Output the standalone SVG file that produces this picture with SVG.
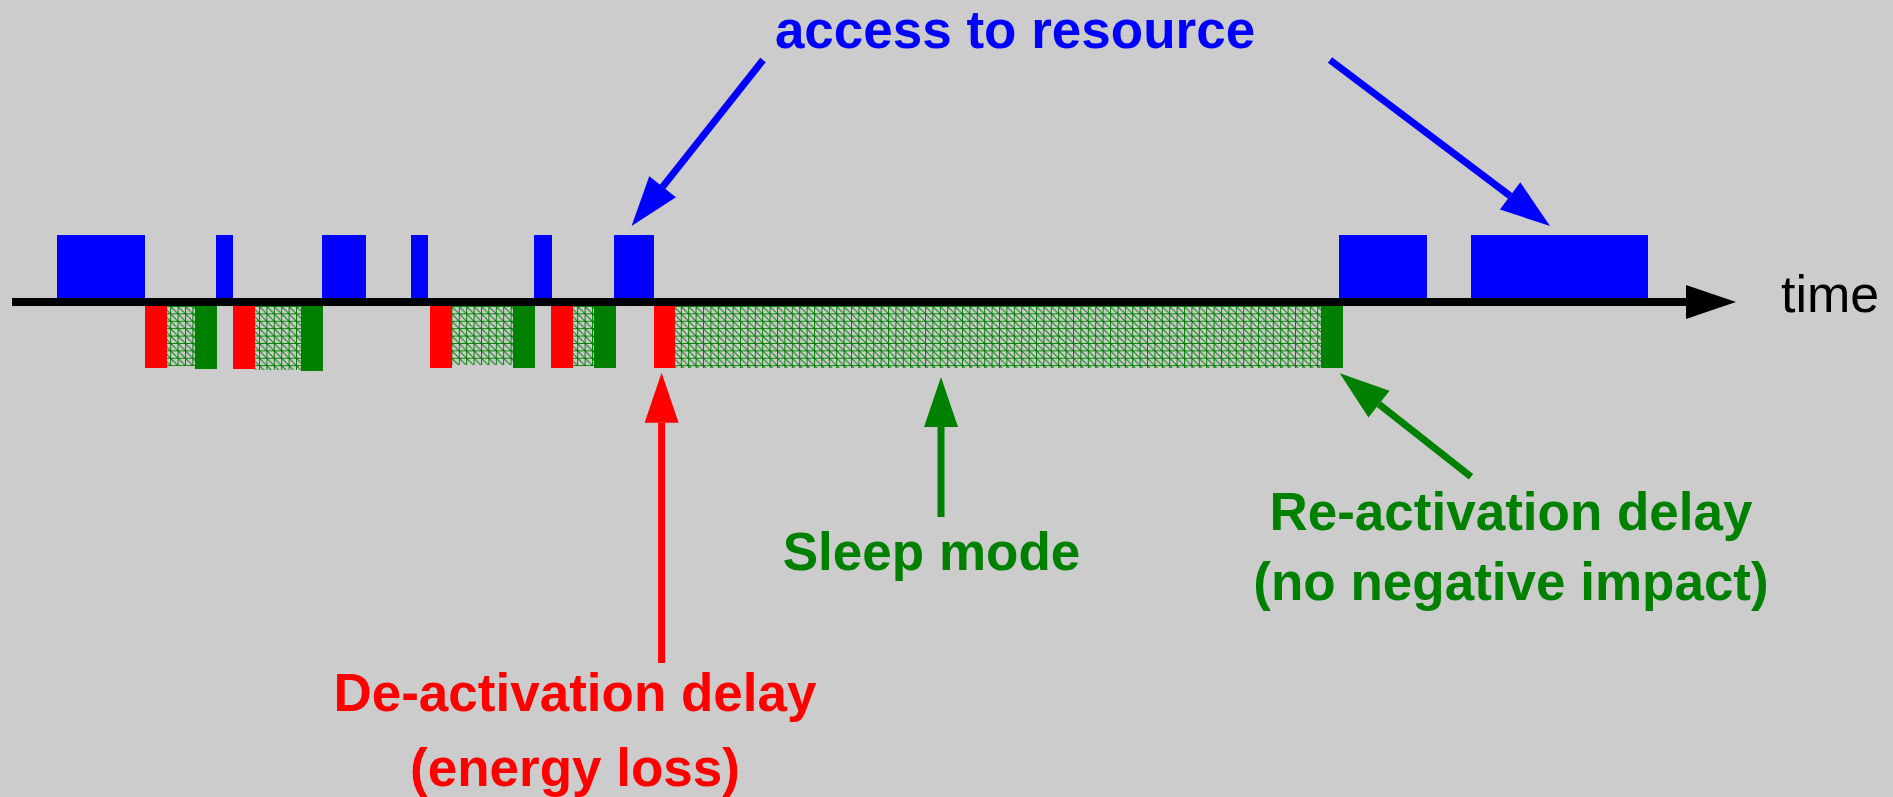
<svg xmlns="http://www.w3.org/2000/svg" width="1893" height="797" viewBox="0 0 1893 797">
<style>
.lbl{font-family:"Liberation Sans",Arial,sans-serif;font-weight:bold;font-size:53px;text-anchor:middle}
.blue{fill:#0000ff}.red{fill:#ff0000}.green{fill:#008000}
.conn{stroke-width:7;fill:none}
</style>
<defs>
<pattern id="hatch" patternUnits="userSpaceOnUse" x="0" y="306" width="7.4" height="7.4">
<path d="M0,0.5 H7.4 M0.5,0 V7.4 M0,0 L7.4,7.4" stroke="#008000" stroke-width="1" fill="none"/>
</pattern>
<marker id="ah-blue" markerUnits="userSpaceOnUse" markerWidth="52" markerHeight="36" refX="0" refY="17" orient="auto" viewBox="0 0 52 34" overflow="visible"><path d="M0,0 L50,17 L0,34 z" fill="#0000ff"/></marker>
<marker id="ah-red" markerUnits="userSpaceOnUse" markerWidth="52" markerHeight="36" refX="0" refY="17" orient="auto" viewBox="0 0 52 34" overflow="visible"><path d="M0,0 L50,17 L0,34 z" fill="#ff0000"/></marker>
<marker id="ah-green" markerUnits="userSpaceOnUse" markerWidth="52" markerHeight="36" refX="0" refY="17" orient="auto" viewBox="0 0 52 34" overflow="visible"><path d="M0,0 L50,17 L0,34 z" fill="#008000"/></marker>
<marker id="ah-black" markerUnits="userSpaceOnUse" markerWidth="52" markerHeight="36" refX="0" refY="17" orient="auto" viewBox="0 0 52 34" overflow="visible"><path d="M0,0 L50,17 L0,34 z" fill="#000000"/></marker>
</defs>
<rect x="0" y="0" width="1893" height="797" fill="#cccccc"/>

<g id="access-blocks" class="blue">
<rect x="57" y="235" width="88" height="67"/>
<rect x="216" y="235" width="17" height="67"/>
<rect x="322" y="235" width="44" height="67"/>
<rect x="411" y="235" width="17" height="67"/>
<rect x="534" y="235" width="18" height="67"/>
<rect x="614" y="235" width="40" height="67"/>
<rect x="1339" y="235" width="88" height="67"/>
<rect x="1471" y="235" width="177" height="67"/>
</g>

<g id="sleep-hatch" fill="url(#hatch)">
<rect x="167" y="306" width="28" height="60"/>
<rect x="255" y="306" width="46" height="64"/>
<rect x="452" y="306" width="61" height="59"/>
<rect x="573" y="306" width="21" height="60"/>
<rect x="675" y="306" width="647" height="62"/>
</g>

<g id="deactivation-blocks" class="red">
<rect x="145" y="302" width="22" height="66"/>
<rect x="233" y="302" width="22" height="67"/>
<rect x="430" y="302" width="22" height="66"/>
<rect x="551" y="302" width="22" height="66"/>
<rect x="654" y="302" width="21" height="66"/>
</g>

<g id="reactivation-blocks" class="green">
<rect x="195" y="302" width="22" height="67"/>
<rect x="301" y="302" width="22" height="69"/>
<rect x="513" y="302" width="22" height="66"/>
<rect x="594" y="302" width="22" height="66"/>
<rect x="1321" y="302" width="22" height="66"/>
</g>

<g id="time-axis">
<line x1="12" y1="302" x2="1686" y2="302" stroke="#000000" stroke-width="8" marker-end="url(#ah-black)"/>
<text x="1781" y="312" font-family="'Liberation Sans',Arial,sans-serif" font-size="52" fill="#000000">time</text>
</g>

<g id="connectors">
<line class="conn" x1="763" y1="60" x2="662.6" y2="186.8" stroke="#0000ff" marker-end="url(#ah-blue)"/>
<line class="conn" x1="1330" y1="60" x2="1510.1" y2="195.9" stroke="#0000ff" marker-end="url(#ah-blue)"/>
<line class="conn" x1="661.6" y1="663" x2="661.6" y2="422.7" stroke="#ff0000" marker-end="url(#ah-red)"/>
<line class="conn" x1="941" y1="517" x2="941" y2="427" stroke="#008000" marker-end="url(#ah-green)"/>
<line class="conn" x1="1471" y1="476.7" x2="1379" y2="404.2" stroke="#008000" marker-end="url(#ah-green)"/>
</g>

<g id="label-access">
<text class="lbl blue" x="1015" y="48">access to resource</text>
</g>
<g id="label-deactivation">
<text class="lbl red" x="575" y="711">De-activation delay</text>
<text class="lbl red" x="575" y="786">(energy loss)</text>
</g>
<g id="label-sleep">
<text class="lbl green" x="931.5" y="570">Sleep mode</text>
</g>
<g id="label-reactivation">
<text class="lbl green" x="1511" y="530">Re-activation delay</text>
<text class="lbl green" x="1511" y="600">(no negative impact)</text>
</g>
</svg>
